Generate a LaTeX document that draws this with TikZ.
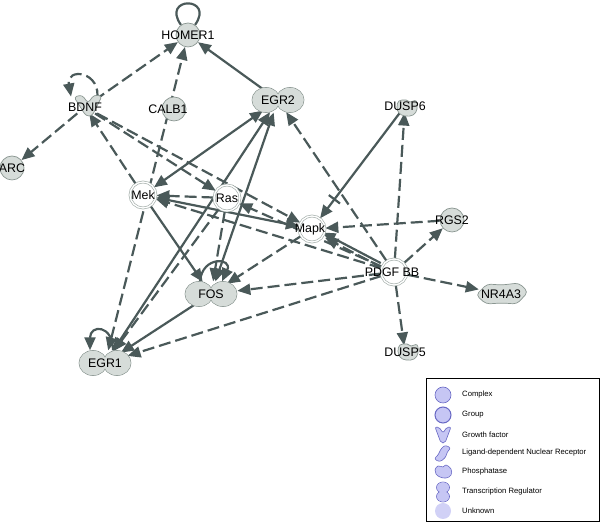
\documentclass[tikz,border=0pt]{standalone}
\usepackage{fontspec}
\setmainfont{Liberation Sans}
\usetikzlibrary{arrows.meta,shapes.geometric,backgrounds}

\definecolor{edgec}{RGB}{74,89,89}
\definecolor{genefill}{RGB}{214,220,217}
\definecolor{geneline}{RGB}{138,150,145}
\definecolor{cplxline}{RGB}{168,178,174}
\definecolor{legfill}{RGB}{198,198,244}
\definecolor{legline}{RGB}{104,104,196}

\tikzset{
  lbl/.style={font=\fontsize{12.4}{14}\selectfont},
  shp/.style={draw=geneline, fill=genefill, line width=0.7pt},
  gene/.style={circle, shp, minimum size=24pt, inner sep=0pt},
  cplx/.style={circle, draw=cplxline, line width=0.7pt, double=white, double distance=1.3pt, fill=white, minimum size=26pt, inner sep=0pt},
  trans/.style={ellipse, minimum width=54pt, minimum height=25pt, inner sep=0pt, lbl},
  blob/.style={rectangle, inner sep=2pt, lbl},
  act/.style={draw=edgec, line width=2.2pt, ->},
  ind/.style={act, dash pattern=on 12pt off 5pt},
  barmark/.style={sloped, rectangle, fill=edgec, inner sep=0pt, minimum width=2.2pt, minimum height=14pt},
  leg/.style={draw=legline, fill=legfill, line width=0.6pt},
  legtxt/.style={font=\fontsize{7.7}{9}\selectfont, anchor=west, inner sep=0pt}
}

% transcription regulator: two merged lobes
\newcommand{\trshape}[1]{%
  \path[shp] #1 ++(-12pt,0pt) ellipse (14pt and 12.5pt) #1 ++(12pt,0pt) ellipse (14pt and 12.5pt);
  \fill[genefill] #1 ++(-12pt,0pt) ellipse (13.6pt and 12.1pt) #1 ++(12pt,0pt) ellipse (13.6pt and 12.1pt);}
% growth factor
\newcommand{\gfshape}[1]{%
  \path[shp, rounded corners=3pt, shift={#1}] (-13,10) -- (-5,12) -- (1,4) -- (7,12) -- (15,11) -- (5,-9) -- (-1,-9) -- cycle;}
% phosphatase
\newcommand{\phshape}[1]{%
  \path[shp, shift={#1}] plot[smooth cycle, tension=0.7] coordinates {(-10,1) (-8,7) (-1,8) (3,6) (9,7) (10,-1) (6,-7) (-2,-8) (-8,-5)};}
% ligand-dependent nuclear receptor
\newcommand{\nrshape}[1]{%
  \path[shp, rounded corners=4pt, shift={#1}] (-26,-1) -- (-15,10) -- (0,9) -- (17,11) -- (26,2) -- (15,-10) -- (0,-9) -- (-16,-10) -- cycle;}

\begin{document}
\begin{tikzpicture}[x=1pt, y=1pt, >={Triangle[length=13pt,width=11pt]}]
    \useasboundingbox (0,0) rectangle (600,524);

    \trshape{(278,424)}
    \trshape{(211,230)}
    \trshape{(105,161)}
    \gfshape{(87,417)}
    \phshape{(407,416)}
    \phshape{(408,172)}
    \nrshape{(502,230)}

    \node[gene, label={[lbl]center:HOMER1}] (homer) at (188,489) {};
    \node[gene, label={[lbl,xshift=-6pt]center:CALB1}] (calb1) at (174,415) {};
    \node[gene, label={[lbl]center:ARC}] (arc) at (12,356) {};
    \node[gene, label={[lbl]center:RGS2}] (rgs2) at (452,304) {};
    \node[blob] (bdnf) at (85,417) {BDNF};
    \node[blob] (dusp6) at (405,418) {DUSP6};
    \node[blob] (dusp5) at (405,172) {DUSP5};
    \node[blob] (nr4a3) at (501,230) {NR4A3};
    \node[trans] (egr2) at (278,424) {EGR2};
    \node[trans] (fos) at (211,230) {FOS};
    \node[trans] (egr1) at (105,161) {EGR1};
    \node[cplx, label={[lbl]center:Mek}] (mek) at (143,329) {};
    \node[cplx, label={[lbl]center:Ras}] (ras) at (227,326) {};
    \node[cplx, label={[lbl,xshift=-2pt]center:Mapk}] (mapk) at (312,295) {};
    \node[cplx, label={[lbl,xshift=-2pt]center:PDGF BB}] (pdgf) at (394,252) {};

    \begin{scope}[on background layer]
    \path
    (homer) edge [act, -, loop, out=125, in=55, min distance=35pt] (homer)
    ([xshift=12pt]bdnf.north) edge [ind, out=80, in=100, min distance=30pt] ([xshift=-14pt,yshift=4pt]bdnf.north)
    (bdnf)  edge [ind] (homer)
            edge [ind] (arc)
            edge [ind] (ras)
            edge [ind] (mapk)
    (egr2)  edge [act] (homer)
            edge [act, <->] (mek)
            edge [act, <->] (egr1)
            edge [act, <->] (fos)
    (egr1)  edge [ind, <->] (homer)
    (mek)   edge [ind] (bdnf)
            edge [act, <->] (mapk)
            edge [act] (fos)
    (ras)   edge [ind] (mek)
            edge [ind] (fos)
            edge [ind] (egr1)
    (mapk)  edge [ind] (fos)
    (fos)   edge [act] (egr1)
    ([xshift=-11pt]fos.north) edge [act, out=85, in=65, min distance=26pt] ([xshift=11pt]fos.north)
    ([xshift=8pt]egr1.north) edge [act, out=90, in=90, min distance=26pt] ([xshift=-15pt]egr1.north)
    (pdgf)  edge [ind] (mek)
            edge [ind] (ras)
            edge [act, transform canvas={shift={(-1.4pt,2.7pt)}}] (mapk)
            edge [ind, transform canvas={shift={(1.4pt,-2.7pt)}}] (mapk)
            edge [ind] (fos)
            edge [ind] (egr1)
            edge [ind] (egr2)
            edge [ind] (dusp6)
            edge [ind] (rgs2)
            edge [ind] (nr4a3)
            edge [ind] (dusp5)
    (dusp6) edge [act] node[barmark, pos=0.82] {} (mapk)
    (rgs2)  edge [ind] (mapk)
    ;
    \end{scope}

    % legend
    \draw[line width=0.8pt] (426,3) rectangle (599,146);
    \draw[leg] (443,129) circle (8pt);
    \draw[leg, line width=1pt] (443,109) circle (8pt);
    \path[leg, rounded corners=2pt, shift={(443,89)}] (-8,8) -- (-4,8) -- (0,2) -- (4,8) -- (8,8) -- (2,-8) -- (-2,-8) -- cycle;
    \path[leg, rounded corners=2.5pt, shift={(443,71)}] (-9,-6) -- (-4,-1) -- (-3,3) -- (2,8) -- (8,5) -- (4,1) -- (3,-4) -- (-3,-9) -- cycle;
    \path[leg, shift={(443,52)}] plot[smooth cycle, tension=0.7] coordinates {(-8,2) (-5,6) (0,5) (3,7) (8,3) (8,-3) (3,-6) (-3,-5) (-7,-2)};
    \path[leg] (443,36.5) ellipse (6.5pt and 5.5pt) (443,27.5) ellipse (6.5pt and 5.5pt);
    \fill[legfill] (443,36.5) ellipse (6.1pt and 5.1pt) (443,27.5) ellipse (6.1pt and 5.1pt);
    \fill[legfill!80] (443,13) circle (8pt);
    \node[legtxt] (lgcomplex) at (462,129) {Complex};
    \node[legtxt] (lggroup) at (462,109) {Group};
    \node[legtxt] (lggrowth) at (462,89) {Growth factor};
    \node[legtxt] (lgreceptor) at (462,71) {Ligand-dependent Nuclear Receptor};
    \node[legtxt] (lgphos) at (462,52) {Phosphatase};
    \node[legtxt] (lgtrans) at (462,32) {Transcription Regulator};
    \node[legtxt] (lgunknown) at (462,13) {Unknown};
\end{tikzpicture}
\end{document}
